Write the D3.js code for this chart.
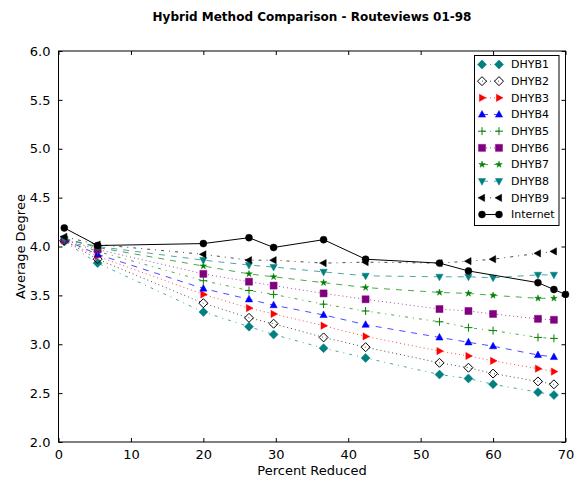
<!DOCTYPE html>
<html>
<head>
<meta charset="utf-8">
<script src="https://cdn.jsdelivr.net/npm/d3@7"></script>
<style>
  body { margin: 0; background: #fff; }
  svg { display: block; font-family: "DejaVu Sans", sans-serif; }
</style>
</head>
<body>
<div id="chart"></div>
<script>
// Data
const xDhyb = [0.8, 5.4, 20, 26.3, 29.7, 36.6, 42.4, 52.6, 56.6, 60, 66.2, 68.4];
const xInternet = [0.8, 5.4, 20, 26.3, 29.7, 36.6, 42.4, 52.6, 56.6, 66.2, 68.4, 70];

const dhyb1 = [4.05, 3.83, 3.33, 3.18, 3.10, 2.96, 2.86, 2.69, 2.65, 2.59, 2.51, 2.48];
const dhyb2 = [4.06, 3.87, 3.42, 3.27, 3.21, 3.07, 2.97, 2.81, 2.76, 2.70, 2.62, 2.59];
const dhyb3 = [4.06, 3.90, 3.51, 3.37, 3.31, 3.19, 3.08, 2.93, 2.88, 2.83, 2.75, 2.72];
const dhyb4 = [4.07, 3.92, 3.57, 3.46, 3.40, 3.30, 3.20, 3.07, 3.02, 2.98, 2.89, 2.87];
const dhyb5 = [4.07, 3.95, 3.65, 3.55, 3.51, 3.41, 3.34, 3.23, 3.17, 3.14, 3.07, 3.06];
const dhyb6 = [4.07, 3.97, 3.72, 3.64, 3.60, 3.52, 3.46, 3.36, 3.34, 3.31, 3.26, 3.25];
const dhyb7 = [4.08, 3.99, 3.80, 3.72, 3.69, 3.63, 3.58, 3.53, 3.52, 3.50, 3.47, 3.47];
const dhyb8 = [4.08, 4.00, 3.86, 3.81, 3.79, 3.74, 3.70, 3.69, 3.69, 3.68, 3.71, 3.71];
const dhyb9 = [4.10, 4.02, 3.92, 3.86, 3.86, 3.83, 3.84, 3.83, 3.85, 3.87, 3.93, 3.95];
const internet = [4.19, 4.01, 4.03, 4.09, 3.99, 4.07, 3.87, 3.83, 3.75, 3.63, 3.56, 3.51];

const seriesNames = ['DHYB1', 'DHYB2', 'DHYB3', 'DHYB4', 'DHYB5', 'DHYB6', 'DHYB7', 'DHYB8', 'DHYB9', 'Internet'];
const xTicks = [0, 10, 20, 30, 40, 50, 60, 70];
const yTicks = [2.0, 2.5, 3.0, 3.5, 4.0, 4.5, 5.0, 5.5, 6.0];

// Styles per series
const styles = [
    { color: '#008080', marker: 'diamond', dash: '3,5,1,5', fill: true },
    { color: '#000000', marker: 'diamond', dash: '1,3', fill: false },
    { color: '#ff0000', marker: 'triRight', dash: '1,3', fill: true },
    { color: '#0000ff', marker: 'triUp', dash: '6,6', fill: true },
    { color: '#008000', marker: 'plus', dash: '3,5,1,5', fill: true },
    { color: '#800080', marker: 'square', dash: '1,3', fill: true },
    { color: '#008000', marker: 'star', dash: '6,6', fill: true },
    { color: '#008080', marker: 'triDown', dash: '6,6', fill: true },
    { color: '#000000', marker: 'triLeft', dash: '3,5,1,5', fill: true },
    { color: '#000000', marker: 'circle', dash: null, fill: true }
];

const series = [dhyb1, dhyb2, dhyb3, dhyb4, dhyb5, dhyb6, dhyb7, dhyb8, dhyb9, internet].map((vals, i) => ({
    name: seriesNames[i],
    style: styles[i],
    points: vals.map((v, j) => ({ x: (i === 9 ? xInternet : xDhyb)[j], y: v }))
}));

const width = 577;
const height = 481;
const margin = { top: 51, right: 11.5, bottom: 39, left: 58.5 };

const svg = d3.select('#chart')
    .append('svg')
    .attr('width', width)
    .attr('height', height);

const x = d3.scaleLinear().domain([0, 70]).range([margin.left, width - margin.right]);
const y = d3.scaleLinear().domain([2, 6]).range([height - margin.bottom, margin.top]);

// Marker path builder
function markerPath(type) {
    switch (type) {
        case 'diamond': return 'M0,-4.5L4.5,0L0,4.5L-4.5,0Z';
        case 'square': return 'M-3.5,-3.5H3.5V3.5H-3.5Z';
        case 'triUp': return 'M0,-4L3.6,2.6L-3.6,2.6Z';
        case 'triDown': return 'M0,4L3.6,-2.6L-3.6,-2.6Z';
        case 'triLeft': return 'M-4,0L2.6,-3.6L2.6,3.6Z';
        case 'triRight': return 'M4,0L-2.6,-3.6L-2.6,3.6Z';
        case 'plus': return 'M-4,0H4M0,-4V4';
        case 'star': return d3.symbol(d3.symbolStar, 13)();
        case 'circle': return d3.symbol(d3.symbolCircle, 38)();
    }
    return '';
}

function drawMarker(g, px, py, st) {
    const p = g.append('path')
        .attr('d', markerPath(st.marker))
        .attr('transform', `translate(${px},${py})`);
    if (st.marker === 'plus' || !st.fill) {
        p.attr('fill', 'none').attr('stroke', st.color).attr('stroke-width', 1);
    } else {
        p.attr('fill', st.color).attr('stroke', st.color).attr('stroke-width', 0.5);
    }
}

const line = d3.line().x(d => x(d.x)).y(d => y(d.y));

const plot = svg.append('g');

series.forEach(s => {
    const g = plot.append('g');
    g.append('path')
        .datum(s.points)
        .attr('d', line)
        .attr('fill', 'none')
        .attr('stroke', s.style.color)
        .attr('stroke-width', 1)
        .attr('stroke-opacity', s.style.dash ? 0.7 : 1)
        .attr('stroke-dasharray', s.style.dash);
    s.points.forEach(d => drawMarker(g, x(d.x), y(d.y), s.style));
});

// Axes: ticks pointing inward on all four sides
const axisG = svg.append('g');
const x0 = margin.left, x1 = width - margin.right;
const y0 = height - margin.bottom, y1 = margin.top;

axisG.append('g')
    .attr('transform', `translate(0,${y0})`)
    .call(d3.axisBottom(x).tickValues(xTicks).tickSizeInner(-4).tickSizeOuter(0).tickPadding(8).tickFormat(d3.format('d')));
axisG.append('g')
    .attr('transform', `translate(0,${y1})`)
    .call(d3.axisTop(x).tickValues(xTicks).tickSizeInner(-4).tickSizeOuter(0).tickFormat(''));
axisG.append('g')
    .attr('transform', `translate(${x0},0)`)
    .call(d3.axisLeft(y).tickValues(yTicks).tickSizeInner(-4).tickSizeOuter(0).tickPadding(8).tickFormat(d3.format('.1f')));
axisG.append('g')
    .attr('transform', `translate(${x1},0)`)
    .call(d3.axisRight(y).tickValues(yTicks).tickSizeInner(-4).tickSizeOuter(0).tickFormat(''));

axisG.selectAll('.domain').remove();
axisG.selectAll('.tick line').attr('stroke', '#000');
axisG.selectAll('.tick text')
    .attr('fill', '#000')
    .attr('font-size', '13px')
    .attr('font-family', '"DejaVu Sans", sans-serif');

// Frame
svg.append('rect')
    .attr('x', x0)
    .attr('y', y1)
    .attr('width', x1 - x0)
    .attr('height', y0 - y1)
    .attr('fill', 'none')
    .attr('stroke', '#000')
    .attr('stroke-width', 1);

// Title and labels
svg.append('text')
    .attr('x', (x0 + x1) / 2)
    .attr('y', 21)
    .attr('text-anchor', 'middle')
    .attr('font-size', '12px')
    .attr('font-weight', 'bold')
    .text('Hybrid Method Comparison - Routeviews 01-98');

svg.append('text')
    .attr('x', (x0 + x1) / 2)
    .attr('y', 475)
    .attr('text-anchor', 'middle')
    .attr('font-size', '13px')
    .text('Percent Reduced');

svg.append('text')
    .attr('transform', `translate(25,${(y0 + y1) / 2}) rotate(-90)`)
    .attr('text-anchor', 'middle')
    .attr('font-size', '13px')
    .text('Average Degree');

// Legend
const legend = svg.append('g');
const lgX = 474.5, lgY = 55.5, lgW = 84.5, lgH = 170;
legend.append('rect')
    .attr('x', lgX)
    .attr('y', lgY)
    .attr('width', lgW)
    .attr('height', lgH)
    .attr('fill', '#fff')
    .attr('stroke', '#000')
    .attr('stroke-width', 1);

series.forEach((s, i) => {
    const ry = 64.5 + i * 16.67;
    const ax = 482, bx = 499;
    legend.append('line')
        .attr('x1', ax).attr('x2', bx)
        .attr('y1', ry).attr('y2', ry)
        .attr('stroke', s.style.color)
        .attr('stroke-width', 1)
        .attr('stroke-opacity', s.style.dash ? 0.7 : 1)
        .attr('stroke-dasharray', s.style.dash);
    drawMarker(legend, ax, ry, s.style);
    drawMarker(legend, bx, ry, s.style);
    legend.append('text')
        .attr('x', 511)
        .attr('y', ry)
        .attr('dy', '0.35em')
        .attr('font-size', '11px')
        .text(s.name);
});
</script>
</body>
</html>
